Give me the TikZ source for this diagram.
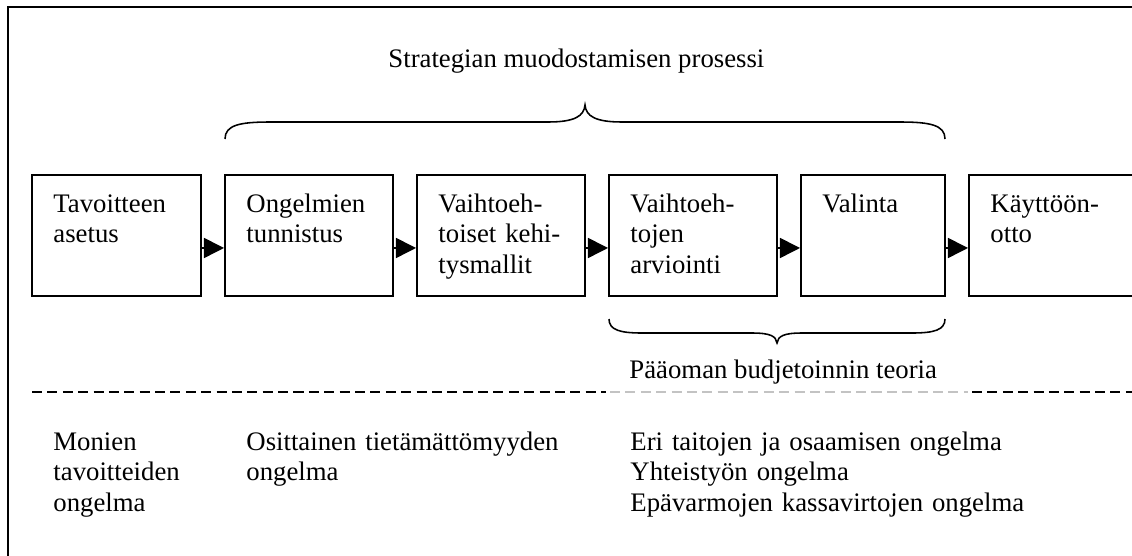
\documentclass[tikz,border=0pt]{standalone}
\usepackage{fontspec}
\setmainfont{Liberation Serif}
\usetikzlibrary{arrows.meta}

\newcommand\pxu{0.4486pt}
\definecolor{sepgray}{RGB}{195,195,195}

\tikzset{
    box/.style={draw, line width=0.9pt, minimum width=168*\pxu, minimum height=121*\pxu, inner sep=0pt},
    boxtext/.style={anchor=base west, inner sep=0pt, text width=3.3cm, align=left},
    flow/.style={line width=0.7pt, -{Triangle[length=9pt, width=9pt]}},
    curly/.style={line width=0.7pt},
    sepline/.style={line width=0.8pt, dash pattern=on 4.5pt off 2.4pt},
}

\begin{document}
\begin{tikzpicture}[x=\pxu, y=-\pxu, font=\fontsize{12}{13.9}\selectfont]
    \useasboundingbox (0,0) rectangle (1132,555);
    \clip (0,0) rectangle (1132,555);

    % Outer frame
    \draw[line width=0.9pt] (8,7) rectangle (1150,575);

    % Title of the process
    \node[anchor=base west, inner sep=0pt] (title) at (388,67) {Strategian muodostamisen prosessi};

    % Brace over the process
    \draw[curly] (225,139) .. controls (225,125) and (240,122) .. (270,122)
        -- (548,122) .. controls (575,122) and (584,116) .. (585,105)
        .. controls (586,116) and (595,122) .. (622,122)
        -- (900,122) .. controls (930,122) and (945,125) .. (945,139);

    % Phase boxes
    \node[box, minimum width=169*\pxu] (b1) at (116.5,235.5) {};
    \node[box] (b2) at (309,235.5) {};
    \node[box] (b3) at (501,235.5) {};
    \node[box] (b4) at (693,235.5) {};
    \node[box, minimum width=144*\pxu] (b5) at (873,235.5) {};
    \node[box] (b6) at (1053,235.5) {};

    % Texts in the boxes
    \node[boxtext] (t1) at (53,212) {Tavoitteen\\asetus};
    \node[boxtext] (t2) at (246,212) {Ongelmien\\tunnistus};
    \node[boxtext] (t3) at (438,212) {Vaihtoeh-\\toiset kehi-\\tysmallit};
    \node[boxtext] (t4) at (630,212) {Vaihtoeh-\\tojen\\arviointi};
    \node[boxtext] (t5) at (822,212) {Valinta};
    \node[boxtext] (t6) at (990,212) {Käyttöön-\\otto};

    % Arrows between the boxes
    \draw[flow] ([yshift=-5.6pt]b1.east) -- ([yshift=-5.6pt]b2.west);
    \draw[flow] ([yshift=-5.6pt]b2.east) -- ([yshift=-5.6pt]b3.west);
    \draw[flow] ([yshift=-5.6pt]b3.east) -- ([yshift=-5.6pt]b4.west);
    \draw[flow] ([yshift=-5.6pt]b4.east) -- ([yshift=-5.6pt]b5.west);
    \draw[flow] ([yshift=-5.6pt]b5.east) -- ([yshift=-5.6pt]b6.west);

    % Brace under evaluation and choice
    \draw[curly] (609,319) .. controls (609,330) and (620,333) .. (642,333)
        -- (752,333) .. controls (770,333) and (776,336) .. (777,343)
        .. controls (778,336) and (784,333) .. (802,333)
        -- (912,333) .. controls (934,333) and (945,330) .. (945,319);
    \node[anchor=base west, inner sep=0pt] (theory) at (629,378) {Pääoman budjetoinnin teoria};

    % Separator line
    \coordinate (s1) at (32,392);
    \coordinate (s2) at (606,392);
    \coordinate (s3) at (610,392);
    \coordinate (s4) at (968,392);
    \coordinate (s5) at (972,392);
    \coordinate (s6) at (1140,392);
    \draw[sepline] (s1) -- (s2);
    \draw[sepline, sepgray, line width=0.6pt] (s3) -- (s4);
    \draw[sepline] (s5) -- (s6);

    % Problems under the line
    \node[boxtext] (p1) at (53,450) {Monien\\tavoitteiden\\ongelma};
    \node[boxtext, text width=6cm] (p2) at (246,450) {Osittainen tietämättömyyden\\ongelma};
    \node[boxtext, text width=8cm] (p3) at (630,450) {Eri taitojen ja osaamisen ongelma\\Yhteistyön ongelma\\Epävarmojen kassavirtojen ongelma};
\end{tikzpicture}
\end{document}
